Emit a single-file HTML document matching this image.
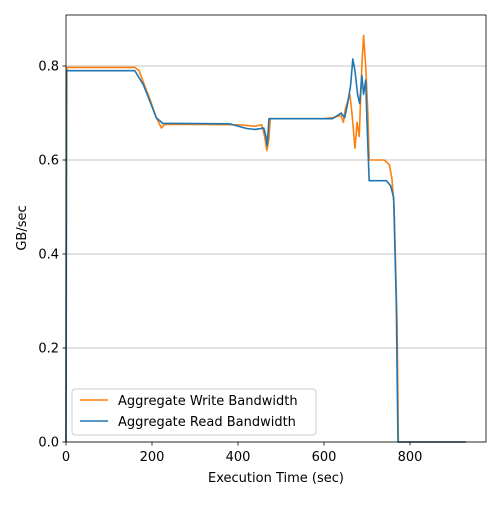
<!DOCTYPE html>
<html><head><meta charset="utf-8"><style>
body{margin:0;background:#fff}
svg{font-family:"DejaVu Sans","Liberation Sans",sans-serif}
</style></head><body>
<svg id="c" width="500" height="500" xmlns="http://www.w3.org/2000/svg">
<rect width="500" height="500" fill="#fff"/>
<g id="grid"></g>
<g id="lines"></g>
<rect x="66" y="15" width="420" height="427" fill="none" stroke="#000" stroke-width="0.8"/>
<g id="axes"></g>
<text x="276" y="482" text-anchor="middle" font-size="13">Execution Time (sec)</text>
<text transform="translate(26,228) rotate(-90)" text-anchor="middle" font-size="13">GB/sec</text>
<g>
<rect x="72" y="389" width="244" height="46" rx="3" fill="#fff" fill-opacity="0.8" stroke="#ccc"/>
<line x1="80" y1="400" x2="108" y2="400" stroke="#ff7f0e" stroke-width="1.5"/>
<text x="118" y="405" font-size="13">Aggregate Write Bandwidth</text>
<line x1="80" y1="421" x2="108" y2="421" stroke="#1f77b4" stroke-width="1.5"/>
<text x="118" y="426" font-size="13">Aggregate Read Bandwidth</text>
</g>
</svg>
<script>
const xTicks=[0,200,400,600,800];
const yTicks=[0,0.2,0.4,0.6,0.8];
const yTickLabels=["0.0","0.2","0.4","0.6","0.8"];
const writeT=[0,2,160,170,180,195,210,222,228,240,400,440,455,462,467,472,475,600,620,640,645,650,660,665,672,677,682,688,692,697,702,705,740,752,758,763,770,773,930];
const writeV=[0,0.797,0.797,0.79,0.765,0.73,0.69,0.668,0.675,0.676,0.675,0.672,0.675,0.65,0.62,0.645,0.688,0.688,0.69,0.695,0.68,0.71,0.74,0.7,0.625,0.68,0.65,0.8,0.865,0.8,0.7,0.6,0.6,0.59,0.56,0.5,0.25,0,0];
const readT=[0,1,160,170,180,195,210,225,380,400,420,440,460,465,468,472,620,640,648,655,662,667,672,678,683,688,692,697,700,705,745,755,762,768,772,930];
const readV=[0,0.79,0.79,0.775,0.76,0.725,0.69,0.678,0.677,0.672,0.667,0.665,0.668,0.65,0.63,0.688,0.688,0.7,0.69,0.72,0.76,0.815,0.79,0.74,0.72,0.78,0.74,0.77,0.68,0.556,0.556,0.545,0.52,0.3,0,0];
const NS="http://www.w3.org/2000/svg";
const X=t=>66+t*0.43, Y=v=>442-v*470;
const grid=document.getElementById('grid'),axes=document.getElementById('axes'),lines=document.getElementById('lines');
function mk(tag,attrs,parent){const e=document.createElementNS(NS,tag);for(const k in attrs)e.setAttribute(k,attrs[k]);parent.appendChild(e);return e;}
yTicks.forEach((v,i)=>{
 const g=mk('line',{x1:66,x2:486,y1:Y(v),y2:Y(v),stroke:'#b0b0b0','stroke-width':0.8},grid);
 
 
 const t=mk('line',{x1:62.5,x2:66,y1:Y(v),y2:Y(v),stroke:'#000','stroke-width':0.8},axes);
 
 
 const l=mk('text',{x:59,y:Y(v)+4.5,'text-anchor':'end','font-size':13},axes);
 l.textContent=yTickLabels[i];
 
 
});
xTicks.forEach(v=>{
 const t=mk('line',{x1:X(v),x2:X(v),y1:442,y2:445.5,stroke:'#000','stroke-width':0.8},axes);
 
 
 const l=mk('text',{x:X(v),y:461,'text-anchor':'middle','font-size':13},axes);
 l.textContent=String(v);
 
 
});
function series(T,V,color,name){
 const d=T.map((t,i)=>(i?'L':'M')+X(t).toFixed(2)+','+Y(V[i]).toFixed(2)).join(' ');
 const p=mk('path',{d:d,fill:'none',stroke:color,'stroke-width':1.6,'stroke-linejoin':'round'},lines);
 
 
}
series(writeT,writeV,'#ff7f0e','write-bandwidth-line');
series(readT,readV,'#1f77b4','read-bandwidth-line');
</script>
</body></html>
